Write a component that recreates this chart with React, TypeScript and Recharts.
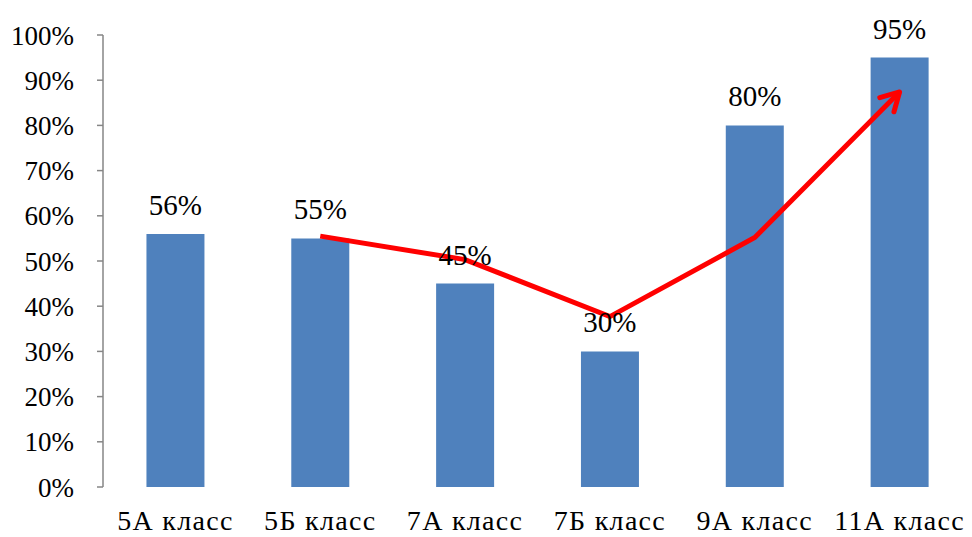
import React from 'react';
import { ComposedChart, Bar, Line, XAxis, YAxis, LabelList } from 'recharts';

const categories = ['5А класс', '5Б класс', '7А класс', '7Б класс', '9А класс', '11А класс'];
const barValues = [56, 55, 45, 30, 80, 95];
const trendValues: (number | null)[] = [null, 55.5, 50.3, 37.7, 55.2, 87.4];
const yTicks = [0, 10, 20, 30, 40, 50, 60, 70, 80, 90, 100];
const edgeTicks = [0, 1, 2, 3, 4, 5, 6];

const data = categories.map((name, i) => ({ name, value: barValues[i], trend: trendValues[i] }));

const FONT = 'Liberation Serif';
const AXIS = '#868686';

export default function App() {
  return (
    <div style={{ position: 'absolute', left: 0, top: 0, width: 972, height: 537, background: '#fff' }}>
      <svg width={0} height={0} style={{ position: 'absolute' }}>
        <defs>
          <marker
            id="arrowHead"
            markerUnits="userSpaceOnUse"
            markerWidth={40}
            markerHeight={40}
            viewBox="-20 -20 40 40"
            refX={0}
            refY={0}
            orient="auto"
            overflow="visible"
          >
            <path d="M -18 -10 L 0 0 L -18 10" fill="none" stroke="#FF0000" strokeWidth={5} strokeLinecap="round" strokeLinejoin="round" />
          </marker>
        </defs>
      </svg>
      <ComposedChart
        width={972}
        height={537}
        data={data}
        margin={{ top: 35, right: 0, bottom: 0, left: 0 }}
        barCategoryGap="30%"
      >
        <XAxis
          xAxisId="edge"
          type="number"
          domain={[0, 6]}
          ticks={edgeTicks}
          tickFormatter={() => ''}
          height={0}
          axisLine={{ stroke: AXIS, strokeWidth: 1.5 }}
          tickLine={{ stroke: AXIS, strokeWidth: 1.5 }}
          tickSize={6}
        />
        <XAxis
          xAxisId="cat"
          dataKey="name"
          axisLine={false}
          tickLine={false}
          height={50}
          interval={0}
          tickMargin={17}
          tick={{ fill: '#000', fontSize: 28, fontFamily: FONT, letterSpacing: 1.3 }}
        />
        <YAxis
          domain={[0, 100]}
          ticks={yTicks}
          width={103}
          tickFormatter={(v) => `${v}%`}
          axisLine={{ stroke: AXIS, strokeWidth: 1.5 }}
          tickLine={{ stroke: AXIS, strokeWidth: 1.5 }}
          tickSize={6}
          tickMargin={23}
          tick={{ fill: '#000', fontSize: 27, fontFamily: FONT }}
        />
        <Bar xAxisId="cat" dataKey="value" fill="#4F81BD" isAnimationActive={false}>
          <LabelList
            dataKey="value"
            position="top"
            offset={19}
            formatter={(v: any) => `${v}%`}
            fontSize={29}
            fontFamily={FONT}
            fill="#000"
          />
        </Bar>
        <Line
          xAxisId="cat"
          dataKey="trend"
          type="linear"
          stroke="#FF0000"
          strokeWidth={5}
          dot={false}
          activeDot={false}
          markerEnd="url(#arrowHead)"
          isAnimationActive={false}
        />
      </ComposedChart>
    </div>
  );
}
